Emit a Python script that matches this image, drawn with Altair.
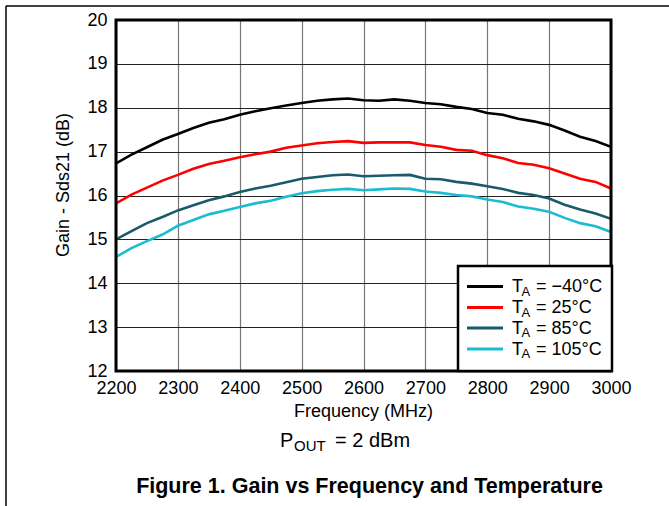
import altair as alt
import pandas as pd

# Frequency sweep (MHz)
freq = [2200, 2225, 2250, 2275, 2300, 2325, 2350, 2375, 2400, 2425, 2450,
        2475, 2500, 2525, 2550, 2575, 2600, 2625, 2650, 2675, 2700, 2725,
        2750, 2775, 2800, 2825, 2850, 2875, 2900, 2925, 2950, 2975, 3000]

# Gain (dB) per ambient temperature
gain_m40 = [16.73, 16.93, 17.10, 17.27, 17.40, 17.54, 17.66, 17.74, 17.84, 17.92, 17.99,
            18.05, 18.11, 18.16, 18.19, 18.21, 18.17, 18.16, 18.19, 18.16, 18.11, 18.08,
            18.02, 17.97, 17.88, 17.84, 17.75, 17.69, 17.61, 17.48, 17.34, 17.24, 17.11]
gain_25 = [15.82, 16.02, 16.18, 16.34, 16.47, 16.61, 16.72, 16.79, 16.87, 16.94, 17.00,
           17.09, 17.14, 17.19, 17.22, 17.24, 17.20, 17.21, 17.21, 17.21, 17.15, 17.11,
           17.04, 17.02, 16.92, 16.85, 16.74, 16.70, 16.62, 16.50, 16.38, 16.31, 16.16]
gain_85 = [15.00, 15.19, 15.37, 15.51, 15.66, 15.78, 15.89, 15.98, 16.08, 16.16, 16.22,
           16.30, 16.38, 16.42, 16.46, 16.48, 16.44, 16.45, 16.46, 16.47, 16.38, 16.37,
           16.31, 16.27, 16.21, 16.15, 16.06, 16.01, 15.93, 15.79, 15.68, 15.59, 15.47]
gain_105 = [14.60, 14.80, 14.96, 15.11, 15.31, 15.44, 15.57, 15.65, 15.74, 15.82, 15.88,
            15.97, 16.05, 16.10, 16.13, 16.15, 16.12, 16.14, 16.16, 16.15, 16.09, 16.06,
            16.01, 15.98, 15.91, 15.85, 15.75, 15.70, 15.63, 15.49, 15.37, 15.30, 15.17]

temps = ["\u221240\u00b0C", "25\u00b0C", "85\u00b0C", "105\u00b0C"]
series = [gain_m40, gain_25, gain_85, gain_105]
colors = ["#000000", "#ff0000", "#1a5b6b", "#19bcd0"]

x_ticks = list(range(2200, 3001, 100))
y_ticks = list(range(12, 21))

x_title = "Frequency (MHz)"
y_title = "Gain - Sds21 (dB)"
cond_main, cond_sub, cond_rest = "P", "OUT", "= 2 dBm"
fig_title = "Figure 1. Gain vs Frequency and Temperature"

FONT = "Liberation Sans"
W, H = 495, 351

rows = []
for t, vals in zip(temps, series):
    for f, g in zip(freq, vals):
        rows.append({"freq": f, "gain": g, "temp": t})
df = pd.DataFrame(rows)

lines = alt.Chart(df).mark_line(strokeWidth=2.6, clip=True).encode(
    x=alt.X("freq:Q", scale=alt.Scale(domain=[2200, 3000], nice=False),
            axis=alt.Axis(values=x_ticks, format="d", title=None, grid=True,
                          gridColor="#777777", gridWidth=1.2, domain=False, ticks=False,
                          labelPadding=8, labelFontSize=18, labelFont=FONT,
                          labelFlush=False, labelOverlap=False,
                          labelColor="#000000")),
    y=alt.Y("gain:Q", scale=alt.Scale(domain=[12, 20], nice=False),
            axis=alt.Axis(values=y_ticks, title=None, grid=True, gridColor="#222222",
                          gridWidth=1.2, domain=False, ticks=False, labelPadding=9,
                          labelFlush=False, labelOverlap=False,
                          labelFontSize=18, labelFont=FONT, labelColor="#000000")),
    color=alt.Color("temp:N", scale=alt.Scale(domain=temps, range=colors), legend=None),
    detail="temp:N",
)


def txt(text, x, y, size=18, align="left", bold=False, angle=0):
    return alt.Chart(pd.DataFrame({"t": [text]})).mark_text(
        align=align, baseline="middle", font=FONT, fontSize=size,
        fontWeight="bold" if bold else "normal", color="#000000", angle=angle,
    ).encode(text="t:N", x=alt.value(x), y=alt.value(y))


# plot frame
border = alt.Chart(pd.DataFrame({"a": [0]})).mark_rect(
    fillOpacity=0, stroke="#000000", strokeWidth=3
).encode(x=alt.value(0), x2=alt.value(W), y=alt.value(0), y2=alt.value(H))

# outer page rules
page_top = alt.Chart(pd.DataFrame({"a": [0]})).mark_rule(color="#000000", strokeWidth=1.5).encode(
    x=alt.value(-110), x2=alt.value(560), y=alt.value(-14))
page_left = alt.Chart(pd.DataFrame({"a": [0]})).mark_rule(color="#000000", strokeWidth=1.5).encode(
    x=alt.value(-110), y=alt.value(-14), y2=alt.value(500))

# legend
leg_box = alt.Chart(pd.DataFrame({"a": [0]})).mark_rect(
    fill="#ffffff", stroke="#000000", strokeWidth=2.5
).encode(x=alt.value(342), x2=alt.value(496), y=alt.value(246), y2=alt.value(H))

legend_layers = [leg_box]
row_y = [266.5, 287.5, 308, 329]
for t, c, ry in zip(temps, colors, row_y):
    legend_layers.append(
        alt.Chart(pd.DataFrame({"a": [0]})).mark_rule(color=c, strokeWidth=3).encode(
            x=alt.value(351), x2=alt.value(387), y=alt.value(ry)))
    legend_layers.append(txt("T", 396, ry + 0.5))
    legend_layers.append(txt("A", 405.5, ry + 5, size=13))
    legend_layers.append(txt("= " + t, 420, ry + 0.5))

texts = [
    txt(x_title, W / 2, 392, align="center"),
    txt(y_title, -52, 165, align="center", angle=270),
    txt(cond_main, 164, 420.5, size=20),
    txt(cond_sub, 178, 426, size=15),
    txt(cond_rest, 219, 420.5, size=20),
    txt(fig_title, 253.5, 467, size=21.5, align="center", bold=True),
]

chart = alt.layer(
    lines, border, page_top, page_left, *legend_layers, *texts
).properties(
    width=W, height=H,
    autosize=alt.AutoSizeParams(type="none"),
    padding={"left": 116, "top": 20, "right": 58, "bottom": 135},
    background="#ffffff",
).configure_view(stroke=None)

chart.save("out.html", embed_options={"renderer": "svg", "actions": False})
